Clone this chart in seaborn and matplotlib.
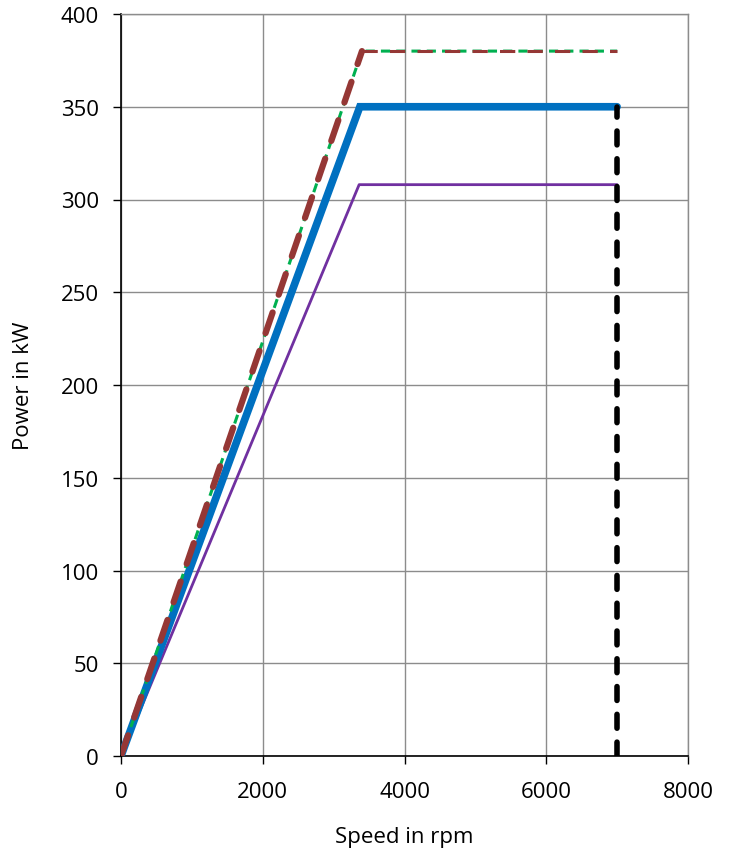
import matplotlib
matplotlib.use("Agg")
import matplotlib.pyplot as plt
import seaborn as sns
import pandas as pd

# Data
speed_blue = [0, 3370, 7000]
power_blue = [0, 350, 350]
speed_purple = [0, 3360, 7000]
power_purple = [0, 308, 308]
speed_green = [0, 3400, 7000]
power_green = [0, 380, 380]
speed_brown_rise = [0, 3400]
power_brown_rise = [0, 380]
speed_brown_flat = [3400, 7000]
power_brown_flat = [380, 380]
speed_black = [7000, 7000]
power_black = [0, 350]

x_ticks = [0, 2000, 4000, 6000, 8000]
y_ticks = [0, 50, 100, 150, 200, 250, 300, 350, 400]

sns.set_theme(style="white")
plt.rcParams['font.family'] = ['Open Sans', 'DejaVu Sans']

fig = plt.figure(figsize=(7.32, 8.54), dpi=100)
ax = fig.add_axes([121/732, 97/854, 567/732, 742/854])

def draw(xs, ys, **kw):
    df = pd.DataFrame({"x": xs, "y": ys})
    sns.lineplot(data=df, x="x", y="y", ax=ax, sort=False, estimator=None, **kw)

draw(speed_purple, power_purple, color="#7030A0", linewidth=2.0, zorder=3)
draw(speed_blue, power_blue, color="#0070C0", linewidth=5.5, zorder=4,
     solid_joinstyle="miter")
draw(speed_green, power_green, color="#00B050", linewidth=2.2, zorder=5,
     linestyle=(0, (3, 2)))
draw(speed_brown_rise, power_brown_rise, color="#953735", linewidth=4.5, zorder=6,
     linestyle=(0, (3.5, 3.0)), dash_capstyle="round")
draw(speed_brown_flat, power_brown_flat, color="#953735", linewidth=2.2, zorder=6,
     linestyle=(0, (5, 4)))
draw(speed_black, power_black, color="black", linewidth=4.0, zorder=7,
     linestyle=(0, (2.5, 2.5)), dash_capstyle="round")

ax.set_xlim(0, 8000)
ax.set_ylim(0, 400)
ax.set_xticks(x_ticks)
ax.set_yticks(y_ticks)
ax.grid(True, color="#8c8c8c", linewidth=1.0)
ax.set_axisbelow(True)

for s in ["top", "right"]:
    ax.spines[s].set_color("#8c8c8c")
    ax.spines[s].set_linewidth(1.0)
for s in ["left", "bottom"]:
    ax.spines[s].set_color("black")
    ax.spines[s].set_linewidth(1.2)

ax.tick_params(axis="both", which="major", direction="out", length=6,
               width=1.0, color="black", labelsize=16, labelcolor="black",
               left=True, bottom=True)
ax.tick_params(axis="y", pad=10)
ax.tick_params(axis="x", pad=12)
ax.set_xlabel("Speed in rpm", fontsize=16, labelpad=17, color="black")
ax.set_ylabel("Power in kW", fontsize=16, labelpad=19, color="black")

fig.savefig("out.png", dpi=100)
